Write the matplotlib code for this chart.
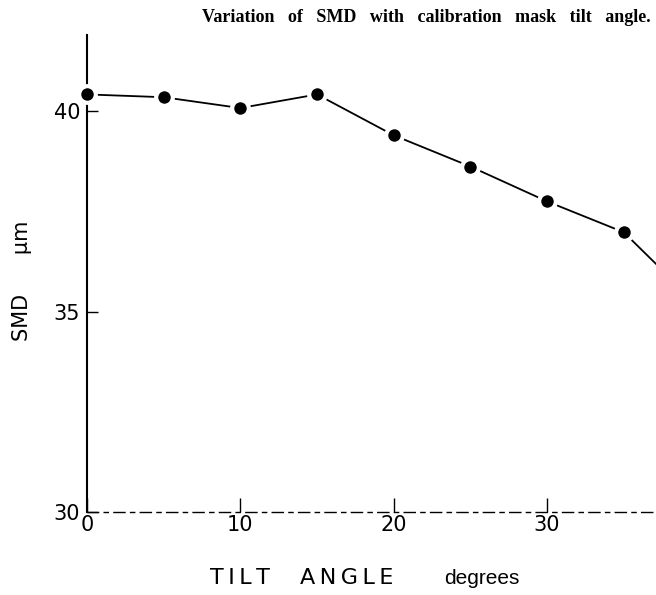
import matplotlib
matplotlib.use("Agg")
import matplotlib.pyplot as plt

tilt_angle = [0, 5, 10, 15, 20, 25, 30, 35, 40]
smd = [40.42, 40.35, 40.08, 40.42, 39.40, 38.62, 37.75, 36.98, 35.1]
x_ticks = [0, 10, 20, 30]
y_ticks = [30, 35, 40]

fig = plt.figure(figsize=(6.56, 5.95), dpi=100)
ax = fig.add_axes([0.1326, 0.1395, 0.8674, 0.8015])
ax.set_xlim(0, 37.1)
ax.set_ylim(30, 41.9)

ax.plot(tilt_angle, smd, color='black', lw=1.3, marker='o', markersize=12,
        markerfacecolor='black', markeredgecolor='white', markeredgewidth=3,
        clip_on=False, zorder=3)

for s in ['top', 'right']:
    ax.spines[s].set_visible(False)
ax.spines['left'].set_linewidth(1.5)
ax.spines['bottom'].set_linewidth(1.0)
ax.spines['bottom'].set_linestyle((0, (8, 4, 3, 4)))

ax.set_xticks(x_ticks)
ax.set_yticks(y_ticks)
ax.tick_params(axis='x', direction='in', length=10, width=1, pad=2, labelsize=15)
ax.tick_params(axis='y', direction='in', length=8, width=1, pad=5, labelsize=15)
ax.set_xticklabels([str(v) for v in x_ticks], family='DejaVu Sans')
ax.set_yticklabels([str(v) for v in y_ticks], family='DejaVu Sans')

ts = '\u2009'
fig.text(0.366, 0.028, ts.join('TILT'), fontsize=16, ha='center', va='center',
         family='DejaVu Sans')
fig.text(0.529, 0.028, ts.join('ANGLE'), fontsize=16, ha='center', va='center',
         family='DejaVu Sans')
fig.text(0.735, 0.028, 'degrees', fontsize=15, ha='center', va='center',
         family='Liberation Sans')
fig.text(0.034, 0.528, 'SMD      \u00b5m', fontsize=15, rotation=90, ha='center',
         va='center', family='DejaVu Sans')
title = 'Variation of SMD with calibration mask tilt angle.'.replace(' ', '   ')
fig.text(0.992, 0.97, title,
         fontsize=13, ha='right', va='center', family='Liberation Serif',
         weight='bold')

fig.savefig('out.png', dpi=100)
